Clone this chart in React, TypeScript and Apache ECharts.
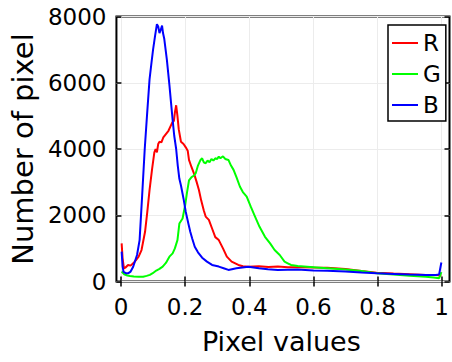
import React, { useEffect, useRef } from "react";
import * as echarts from "echarts";

// Histogram counts per channel: [pixel value, number of pixels]
const RED: [number, number][] = [
  [0.002, 1150], [0.005, 700], [0.009, 400], [0.015, 430], [0.022, 500], [0.03, 480],
  [0.043, 600], [0.055, 750], [0.064, 950], [0.075, 1500], [0.082, 2100], [0.089, 2760],
  [0.097, 3400], [0.104, 3900], [0.108, 4000], [0.112, 3900], [0.116, 4150], [0.12, 4220],
  [0.126, 4200], [0.132, 4350], [0.14, 4450], [0.148, 4550], [0.155, 4700], [0.16, 4800],
  [0.165, 4850], [0.168, 5100], [0.172, 5320], [0.176, 5000], [0.18, 4600], [0.187, 4220],
  [0.195, 4150], [0.202, 4050], [0.208, 3950], [0.212, 3670], [0.22, 3450], [0.228, 3250],
  [0.236, 3000], [0.243, 2760], [0.25, 2450], [0.258, 2150], [0.264, 1960], [0.274, 1860],
  [0.284, 1600], [0.294, 1340], [0.305, 1250], [0.318, 1000], [0.33, 750], [0.345, 600],
  [0.366, 500], [0.38, 460], [0.397, 445], [0.43, 460], [0.46, 440], [0.489, 450],
  [0.52, 430], [0.55, 430], [0.6, 420], [0.643, 415], [0.7, 380], [0.75, 320],
  [0.797, 265], [0.85, 240], [0.9, 220], [0.95, 200], [0.982, 195], [0.999, 180],
];

const GREEN: [number, number][] = [
  [0.002, 300], [0.01, 220], [0.02, 180], [0.028, 165], [0.04, 150], [0.055, 140],
  [0.069, 145], [0.08, 170], [0.09, 200], [0.099, 250], [0.11, 330], [0.12, 380],
  [0.13, 450], [0.14, 560], [0.151, 750], [0.161, 850], [0.168, 1000], [0.176, 1250],
  [0.182, 1750], [0.192, 1900], [0.2, 2300], [0.206, 2700], [0.212, 3050], [0.22, 3150],
  [0.228, 3200], [0.233, 3270], [0.24, 3500], [0.248, 3670], [0.253, 3720], [0.258, 3600],
  [0.264, 3570], [0.27, 3650], [0.276, 3600], [0.282, 3700], [0.288, 3650], [0.294, 3720],
  [0.3, 3700], [0.305, 3770], [0.31, 3720], [0.318, 3780], [0.325, 3700], [0.335, 3670],
  [0.343, 3500], [0.351, 3370], [0.36, 3150], [0.371, 2860], [0.38, 2700], [0.392, 2560],
  [0.405, 2250], [0.418, 1960], [0.432, 1650], [0.449, 1350], [0.465, 1150], [0.479, 950],
  [0.495, 800], [0.51, 600], [0.52, 550], [0.53, 500], [0.551, 465], [0.6, 430],
  [0.643, 400], [0.7, 360], [0.75, 320], [0.797, 250], [0.85, 210], [0.9, 175],
  [0.951, 145], [0.975, 120], [0.992, 100], [0.999, 280],
];

const BLUE: [number, number][] = [
  [0.002, 900], [0.005, 450], [0.008, 290], [0.015, 250], [0.022, 247], [0.03, 300],
  [0.038, 447], [0.05, 800], [0.058, 1250], [0.066, 2600], [0.074, 4000], [0.081, 5000],
  [0.089, 6100], [0.095, 6600], [0.1, 7000], [0.106, 7400], [0.112, 7770], [0.116, 7700],
  [0.12, 7500], [0.124, 7600], [0.128, 7725], [0.131, 7500], [0.135, 7320], [0.143, 6700],
  [0.151, 5930], [0.156, 5400], [0.161, 4880], [0.166, 4400], [0.172, 4000], [0.177, 3500],
  [0.182, 3100], [0.187, 2900], [0.195, 2500], [0.202, 2100], [0.21, 1750], [0.216, 1500],
  [0.222, 1300], [0.23, 1050], [0.24, 880], [0.253, 720], [0.268, 600], [0.284, 500],
  [0.305, 450], [0.32, 400], [0.335, 350], [0.36, 400], [0.397, 445], [0.43, 400],
  [0.458, 370], [0.489, 350], [0.55, 360], [0.6, 330], [0.643, 325], [0.7, 300],
  [0.75, 270], [0.797, 250], [0.85, 230], [0.9, 210], [0.951, 195], [0.982, 195],
  [0.992, 215], [0.999, 575],
];

const X_TICKS = { min: 0, max: 1, interval: 0.2 };
const Y_TICKS = { min: 0, max: 8000, interval: 2000 };

const FONT = "DejaVu Sans";
const GRID_COLOR = "#ececec";

export default function App() {
  const ref = useRef<HTMLDivElement>(null);

  useEffect(() => {
    if (!ref.current) return;
    const chart = echarts.init(ref.current, undefined, { renderer: "svg" });

    const top = 16.5;
    const height = 265;

    const lineSeries = (name: string, color: string, data: [number, number][]) => ({
      name,
      type: "line",
      xAxisIndex: 2,
      yAxisIndex: 2,
      data,
      symbol: "none",
      smooth: false,
      lineStyle: { color, width: 2 },
      itemStyle: { color },
      z: 3,
    });

    const tick = { show: true, inside: true, length: 5, lineStyle: { color: "#000", width: 1.5 } };

    chart.setOption({
      animation: false,
      backgroundColor: "#fff",
      textStyle: { fontFamily: FONT },
      grid: [
        // outer frame
        { left: 114, top, width: 335.5, height, show: true, borderColor: "#000", borderWidth: 2, backgroundColor: "transparent" },
        // data area
        { left: 121, top, width: 325, height, show: false },
      ],
      xAxis: [
        { gridIndex: 0, type: "value", min: 0, max: 1, show: false },
        {
          gridIndex: 1, type: "value", position: "top", ...X_TICKS,
          axisLine: { show: false },
          axisTick: tick,
          axisLabel: { show: false },
          splitLine: { show: false },
        },
        {
          gridIndex: 1, type: "value", position: "bottom", ...X_TICKS,
          name: "Pixel values",
          nameLocation: "middle",
          nameGap: 46,
          nameTextStyle: { fontFamily: FONT, fontSize: 27, color: "#000" },
          axisLine: { show: false },
          axisTick: tick,
          axisLabel: {
            fontFamily: FONT, fontSize: 23, color: "#000", margin: 14,
            formatter: (v: number) => String(Math.round(v * 10) / 10),
          },
          splitLine: { show: true, lineStyle: { color: GRID_COLOR, width: 1 } },
        },
      ],
      yAxis: [
        {
          gridIndex: 0, type: "value", position: "left", ...Y_TICKS,
          name: "Number of pixel",
          nameLocation: "middle",
          nameGap: 70,
          nameTextStyle: { fontFamily: FONT, fontSize: 29, color: "#000" },
          axisLine: { show: false },
          axisTick: tick,
          axisLabel: {
            fontFamily: FONT, fontSize: 23, color: "#000", margin: 10,
            formatter: (v: number) => String(Math.round(v)),
          },
          splitLine: { show: true, lineStyle: { color: GRID_COLOR, width: 1 } },
        },
        {
          gridIndex: 0, type: "value", position: "right", ...Y_TICKS,
          axisLine: { show: false },
          axisTick: tick,
          axisLabel: { show: false },
          splitLine: { show: false },
        },
        { gridIndex: 1, type: "value", ...Y_TICKS, show: false },
      ],
      legend: {
        orient: "vertical",
        left: 388,
        top: 25,
        padding: [6, 5, 4, 4],
        icon: "rect",
        itemWidth: 26,
        itemHeight: 2,
        itemGap: 7,
        borderColor: "#000",
        borderWidth: 1.5,
        backgroundColor: "#fff",
        textStyle: { fontFamily: FONT, fontSize: 23, color: "#000", lineHeight: 24 },
        data: ["R", "G", "B"],
      },
      series: [
        lineSeries("R", "#ff0000", RED),
        lineSeries("G", "#00ff00", GREEN),
        lineSeries("B", "#0000ff", BLUE),
      ],
    });

    return () => chart.dispose();
  }, []);

  return <div ref={ref} style={{ width: 452, height: 362, position: "absolute", left: 0, top: 0 }} />;
}
